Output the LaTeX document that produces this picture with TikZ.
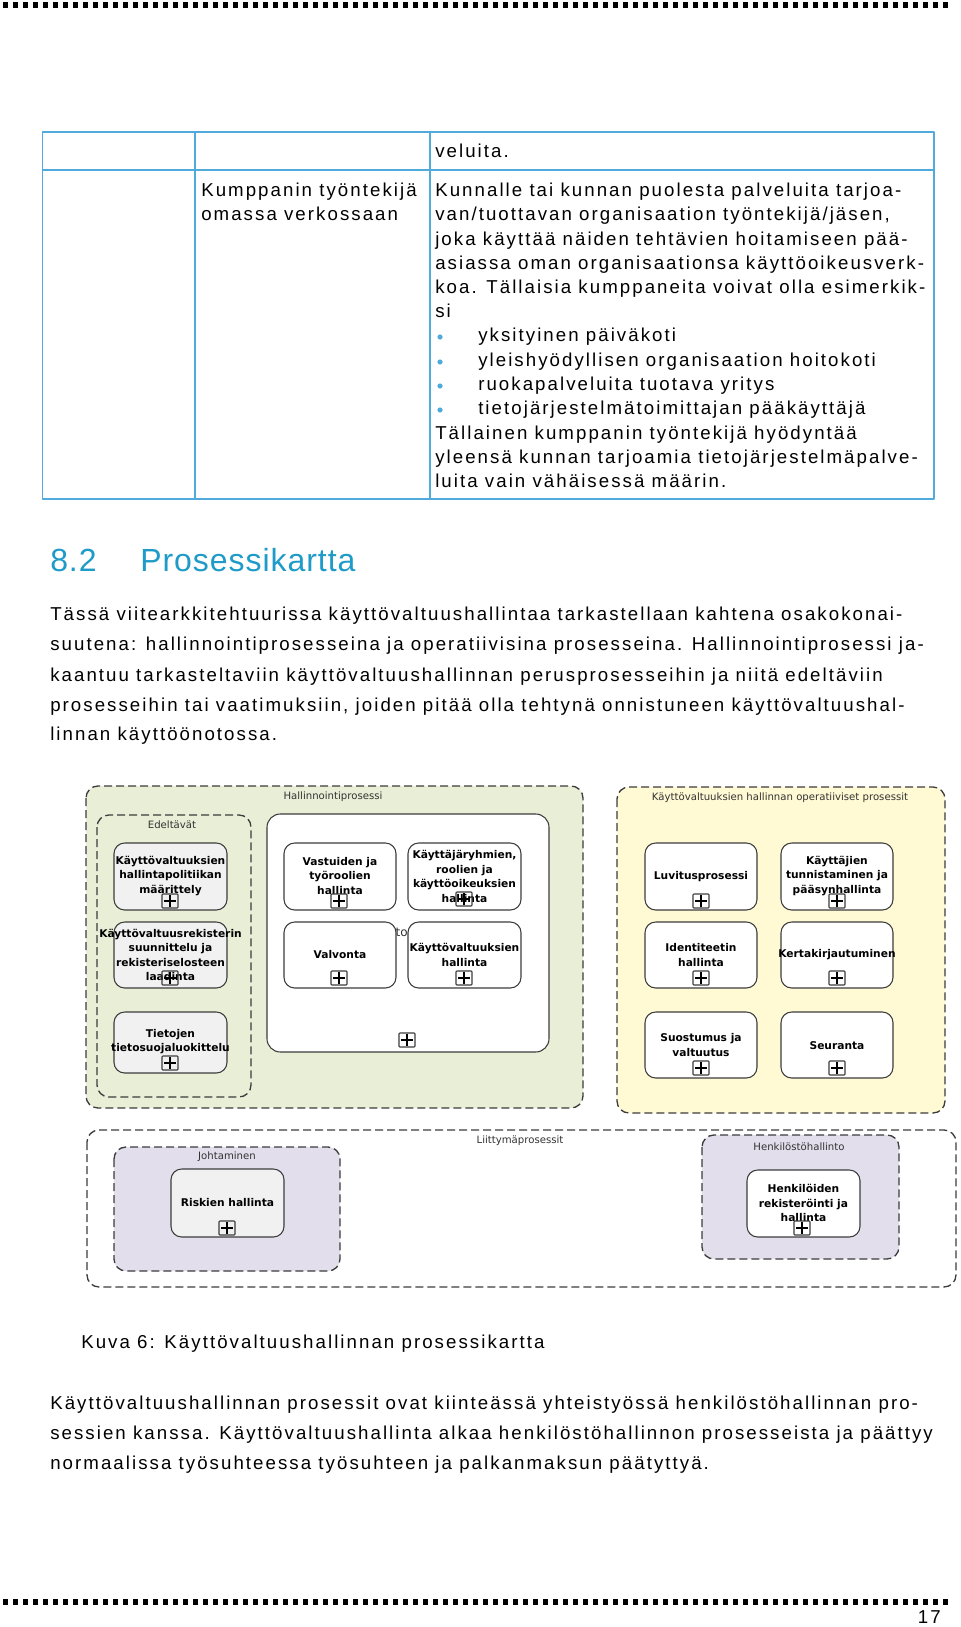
\documentclass[tikz,border=0pt]{standalone}
\usepackage{fontspec}
\setmainfont{Liberation Sans}[LetterSpace=11]
\newfontfamily\headfont{Liberation Sans}[LetterSpace=3]
\newfontfamily\diafont{DejaVu Sans}
\usepackage{xcolor}

\begin{document}
\begin{tikzpicture}[
    x=0.75pt, y=-0.75pt,
    line join=round,
    pagetxt/.style={anchor=west, inner sep=0pt, text height=10pt,
        text depth=0pt, font=\fontsize{14}{16}\selectfont},
    grouplbl/.style={inner sep=0pt, text=black!80,
        font=\diafont\fontsize{7.6}{9}\selectfont},
    tasklbl/.style={inner sep=0pt, align=center,
        font=\diafont\bfseries\fontsize{8}{10.9}\selectfont},
    grouparea/.style={draw=edgegray, line width=1pt,
        dash pattern=on 6pt off 3pt, rounded corners=9pt},
    taskbox/.style={draw=edgegray, line width=0.8pt, rounded corners=8pt},
    plusbox/.pic={
        \draw[edgegray, line width=0.8pt, rounded corners=0.6pt] (-8,-7) rectangle (8,7);
        \draw[black, line width=1.2pt] (-6,0) -- (6,0) (0,-6) -- (0,6);
    }
]

\definecolor{tblblue}{RGB}{80,170,220}
\definecolor{headblue}{RGB}{30,155,200}
\definecolor{hallgreen}{RGB}{233,238,214}
\definecolor{opyellow}{RGB}{255,250,212}
\definecolor{ifpurple}{RGB}{226,222,236}
\definecolor{taskgray}{RGB}{241,241,241}
\definecolor{edgegray}{RGB}{60,60,60}

\fill[white] (0,0) rectangle (960,1627);
\useasboundingbox (0,0) rectangle (960,1627);

% -----------------------------
% Page rules
% -----------------------------
\foreach \i in {0,...,94} {
    \fill (3+10*\i,2) rectangle ++(5,6);
    \fill (3+10*\i,1599) rectangle ++(5,6);
}
\node[pagetxt, anchor=east] (pgno) at (941,1617) {17};

% -----------------------------
% Table
% -----------------------------
\draw[tblblue, line width=1.2pt] (42.5,132) rectangle (934,499);
\draw[tblblue, line width=1.2pt] (195,132) -- (195,499);
\draw[tblblue, line width=1.2pt] (430,132) -- (430,499);
\draw[tblblue, line width=1.2pt] (42.5,170) -- (934,170);

\node[pagetxt] (cellend) at (435,151) {veluita.};
\node[pagetxt] (rolea) at (201,190) {Kumppanin työntekijä};
\node[pagetxt] (roleb) at (201,214) {omassa verkossaan};

\node[pagetxt] (descA) at (435,190) {Kunnalle tai kunnan puolesta palveluita tarjoa-};
\node[pagetxt] (descB) at (435,214) {van/tuottavan organisaation työntekijä/jäsen,};
\node[pagetxt] (descC) at (435,238.5) {joka käyttää näiden tehtävien hoitamiseen pää-};
\node[pagetxt] (descD) at (435,262.5) {asiassa oman organisaationsa käyttöoikeusverk-};
\node[pagetxt] (descE) at (435,287) {koa. Tällaisia kumppaneita voivat olla esimerkik-};
\node[pagetxt] (descF) at (435,311) {si};
\node[pagetxt] (itemA) at (478,335) {yksityinen päiväkoti};
\node[pagetxt] (itemB) at (478,360) {yleishyödyllisen organisaation hoitokoti};
\node[pagetxt] (itemC) at (478,384) {ruokapalveluita tuotava yritys};
\node[pagetxt] (itemD) at (478,408) {tietojärjestelmätoimittajan pääkäyttäjä};
\foreach \y in {335,360,384,408}
    \fill[tblblue] (440,\y+2) circle (2.6);
\node[pagetxt] (descG) at (435,433) {Tällainen kumppanin työntekijä hyödyntää};
\node[pagetxt] (descH) at (435,457) {yleensä kunnan tarjoamia tietojärjestelmäpalve-};
\node[pagetxt] (descI) at (435,481) {luita vain vähäisessä määrin.};

% -----------------------------
% Section heading and text
% -----------------------------
\node[anchor=west, inner sep=0pt, text height=17pt, text depth=0pt, text=headblue,
    font=\headfont\fontsize{24}{28}\selectfont] (secnum) at (50,560) {8.2};
\node[anchor=west, inner sep=0pt, text height=17pt, text depth=0pt, text=headblue,
    font=\headfont\fontsize{24}{28}\selectfont] (sectitle) at (140,560) {Prosessikartta};

\node[pagetxt] (introA) at (50,614) {Tässä viitearkkitehtuurissa käyttövaltuushallintaa tarkastellaan kahtena osakokonai-};
\node[pagetxt] (introB) at (50,644) {suutena: hallinnointiprosesseina ja operatiivisina prosesseina. Hallinnointiprosessi ja-};
\node[pagetxt] (introC) at (50,675) {kaantuu tarkasteltaviin käyttövaltuushallinnan perusprosesseihin ja niitä edeltäviin};
\node[pagetxt] (introD) at (50,705) {prosesseihin tai vaatimuksiin, joiden pitää olla tehtynä onnistuneen käyttövaltuushal-};
\node[pagetxt] (introE) at (50,734) {linnan käyttöönotossa.};

% -----------------------------
% Hallinnointiprosessi
% -----------------------------
\draw[grouparea, fill=hallgreen] (86,786) rectangle (583,1108);
\node[grouplbl] (hallttl) at (333,797) {Hallinnointiprosessi};

\draw[grouparea] (97,815) rectangle (251,1097);
\node[grouplbl] (edelttl) at (172,825) {Edeltävät};

\draw[taskbox, fill=taskgray] (114,843) rectangle (227,910);
\node[tasklbl] (policy) at (170.5,876) {Käyttövaltuuksien\\hallintapolitiikan\\määrittely};
\pic at (170,901) {plusbox};

\draw[taskbox, fill=taskgray] (114,922) rectangle (227,988);
\node[tasklbl] (register) at (170.5,955) {Käyttövaltuusrekisterin\\suunnittelu ja\\rekisteriselosteen\\laadinta};
\pic at (170,978) {plusbox};

\draw[taskbox, fill=taskgray] (114,1012) rectangle (227,1073);
\node[tasklbl] (classify) at (170.5,1041.5) {Tietojen\\tietosuojaluokittelu};
\pic at (170,1063) {plusbox};

\draw[taskbox, fill=white, rounded corners=10pt] (267,814) rectangle (549,1052);
\pic at (407,1040) {plusbox};
\node[grouplbl, anchor=east, font=\diafont\fontsize{9}{10}\selectfont] (hidden) at (408,932) {to};

\draw[taskbox, fill=white] (284,843) rectangle (396,910);
\node[tasklbl] (duties) at (340,876) {Vastuiden ja\\työroolien\\hallinta};
\pic at (339,901) {plusbox};

\draw[taskbox, fill=white] (408,843) rectangle (521,910);
\node[tasklbl] (groups) at (464.5,876.5) {Käyttäjäryhmien,\\roolien ja\\käyttöoikeuksien\\hallinta};
\pic at (464,899) {plusbox};

\draw[taskbox, fill=white] (284,922) rectangle (396,988);
\node[tasklbl] (monitor) at (340,955) {Valvonta};
\pic at (339,978) {plusbox};

\draw[taskbox, fill=white] (408,922) rectangle (521,988);
\node[tasklbl] (rights) at (464.5,955) {Käyttövaltuuksien\\hallinta};
\pic at (464,978) {plusbox};

% -----------------------------
% Operatiiviset prosessit
% -----------------------------
\draw[grouparea, fill=opyellow] (617,787) rectangle (945,1113);
\node[grouplbl] (operttl) at (780,798) {Käyttövaltuuksien hallinnan operatiiviset prosessit};

\draw[taskbox, fill=white] (645,843) rectangle (757,910);
\node[tasklbl] (permit) at (701,877) {Luvitusprosessi};
\pic at (701,901) {plusbox};

\draw[taskbox, fill=white] (781,843) rectangle (893,910);
\node[tasklbl] (authn) at (837,876) {Käyttäjien\\tunnistaminen ja\\pääsynhallinta};
\pic at (837,901) {plusbox};

\draw[taskbox, fill=white] (645,922) rectangle (757,988);
\node[tasklbl] (identity) at (701,955) {Identiteetin\\hallinta};
\pic at (701,978) {plusbox};

\draw[taskbox, fill=white] (781,922) rectangle (893,988);
\node[tasklbl] (sso) at (837,955) {Kertakirjautuminen};
\pic at (837,978) {plusbox};

\draw[taskbox, fill=white] (645,1012) rectangle (757,1078);
\node[tasklbl] (consent) at (701,1045) {Suostumus ja\\valtuutus};
\pic at (701,1068) {plusbox};

\draw[taskbox, fill=white] (781,1012) rectangle (893,1078);
\node[tasklbl] (follow) at (837,1046) {Seuranta};
\pic at (837,1068) {plusbox};

% -----------------------------
% Liittymäprosessit
% -----------------------------
\draw[grouparea] (87,1130) rectangle (956,1287);
\node[grouplbl] (linkttl) at (520,1141) {Liittymäprosessit};

\draw[grouparea, fill=ifpurple] (114,1147) rectangle (340,1271);
\node[grouplbl] (leadttl) at (227,1157) {Johtaminen};
\draw[taskbox, fill=taskgray] (171,1169) rectangle (284,1237);
\node[tasklbl] (risk) at (227.5,1203) {Riskien hallinta};
\pic at (227,1228) {plusbox};

\draw[grouparea, fill=ifpurple] (702,1135) rectangle (899,1259);
\node[grouplbl] (hrttl) at (799,1147) {Henkilöstöhallinto};
\draw[taskbox, fill=white] (747,1170) rectangle (860,1237);
\node[tasklbl] (persons) at (803.5,1203) {Henkilöiden\\rekisteröinti ja\\hallinta};
\pic at (802,1228) {plusbox};

% -----------------------------
% Caption and closing text
% -----------------------------
\node[pagetxt] (caption) at (81,1342) {Kuva 6: Käyttövaltuushallinnan prosessikartta};

\node[pagetxt] (outroA) at (50,1403) {Käyttövaltuushallinnan prosessit ovat kiinteässä yhteistyössä henkilöstöhallinnan pro-};
\node[pagetxt] (outroB) at (50,1433) {sessien kanssa. Käyttövaltuushallinta alkaa henkilöstöhallinnon prosesseista ja päättyy};
\node[pagetxt] (outroC) at (50,1463) {normaalissa työsuhteessa työsuhteen ja palkanmaksun päätyttyä.};

\end{tikzpicture}
\end{document}
